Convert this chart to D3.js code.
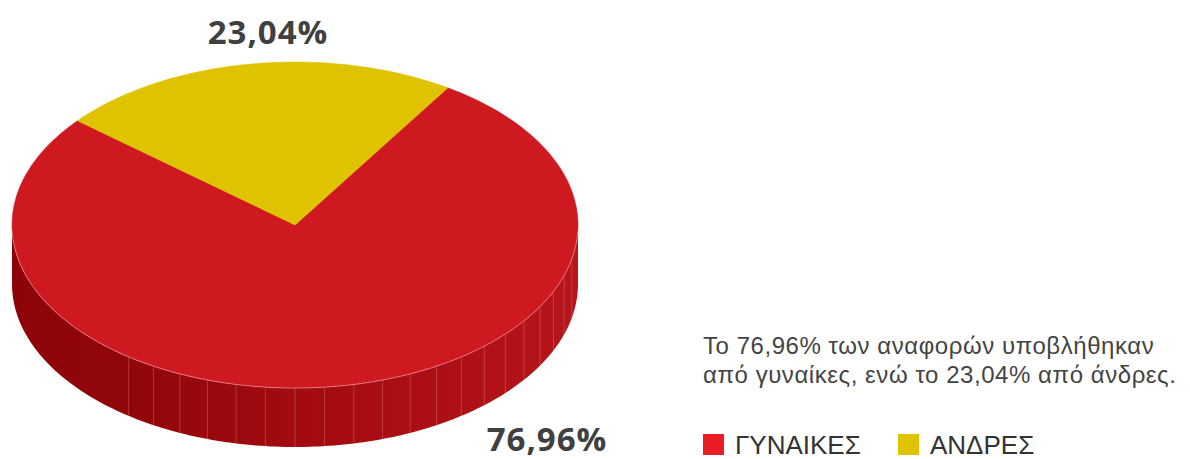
<!DOCTYPE html>
<html>
<head>
<meta charset="utf-8">
<script src="https://cdn.jsdelivr.net/npm/d3@7"></script>
<style>
  html, body { margin: 0; padding: 0; background: #fff; }
  svg { display: block; }
</style>
</head>
<body>
<svg id="chart" width="1190" height="459"></svg>
<script>
// ---- data ----
const categories = ["ΓΥΝΑΙΚΕΣ", "ΑΝΔΡΕΣ"];
const values = [76.96, 23.04];
const valueLabels = ["76,96%", "23,04%"];
const colors = ["#cf1920", "#e0c300"];
const legendColors = ["#ea1d26", "#dfc200"];
const noteLines = [
  "Το 76,96% των αναφορών υποβλήθηκαν",
  "από γυναίκες, ενώ το 23,04% από άνδρες."
];

// ---- layout ----
const W = 1190, H = 459;
const cx = 295, cy = 225, rx = 283, ry = 163, depth = 59;
const deg = Math.PI / 180;
const startAngle = 32.7 * deg;

const svg = d3.select("#chart");
svg.append("rect").attr("width", W).attr("height", H).attr("fill", "#fff");

// side gradient (darker on the left, lighter on the right)
const defs = svg.append("defs");
const grad = defs.append("linearGradient")
  .attr("id", "sideGrad")
  .attr("gradientUnits", "userSpaceOnUse")
  .attr("x1", cx - rx).attr("y1", 0)
  .attr("x2", cx + rx).attr("y2", 0);
[[0, "#8d0408"], [0.22, "#91060a"], [0.5, "#a20b10"], [0.78, "#ad1016"], [1, "#b6161c"]]
  .forEach(([o, c]) => grad.append("stop").attr("offset", o).attr("stop-color", c));

const pie = d3.pie().sort(null).value(d => d)
  .startAngle(startAngle).endAngle(startAngle + 2 * Math.PI);
const arcs = pie(values);

// elliptical projection of a pie angle (d3 convention: 0 = 12 o'clock, clockwise)
const px = a => cx + rx * Math.sin(a);
const py = (a, dz = 0) => cy - ry * Math.cos(a) + dz;

function ellipsePts(a0, a1, dz) {
  const n = Math.max(2, Math.ceil(Math.abs(a1 - a0) / (1 * deg)));
  return d3.range(n + 1).map(i => {
    const a = a0 + (a1 - a0) * i / n;
    return [px(a), py(a, dz)];
  });
}
const line = d3.line();

// ---- side (front wall) ----
const sideG = svg.append("g");
const facetStep = 6 * deg;

arcs.forEach((d, i) => {
  for (let k = -1; k <= 1; k++) {
    const a0 = Math.max(d.startAngle + k * 2 * Math.PI, 90 * deg);
    const a1 = Math.min(d.endAngle + k * 2 * Math.PI, 270 * deg);
    if (a1 <= a0) continue;
    const top = ellipsePts(a0, a1, 0);
    const bot = ellipsePts(a1, a0, depth);
    sideG.append("path")
      .attr("d", line(top.concat(bot)) + "Z")
      .attr("fill", i === 0 ? "url(#sideGrad)" : d3.color(colors[i]).darker(0.8));
    // facet edge lines
    const nf = Math.ceil((a1 - a0) / facetStep);
    for (let f = 1; f < nf; f++) {
      const b = a0 + (a1 - a0) * f / nf;
      if (b < 96 * deg || b > 216 * deg) continue;
      sideG.append("line")
        .attr("x1", px(b)).attr("y1", py(b))
        .attr("x2", px(b)).attr("y2", py(b, depth))
        .attr("stroke", "#e07c80").attr("stroke-opacity", 0.5)
        .attr("stroke-width", 0.8);
    }
  }
});

// ---- top faces ----
const topG = svg.append("g");
arcs.forEach((d, i) => {
  const pts = [[cx, cy]].concat(ellipsePts(d.startAngle, d.endAngle, 0));
  topG.append("path")
    .attr("d", line(pts) + "Z")
    .attr("fill", colors[i])
    .attr("stroke", colors[i])
    .attr("stroke-width", 0.5)
    .attr("stroke-linejoin", "round");
});
// light rim along the front edge
topG.append("path")
  .attr("d", line(ellipsePts(92 * deg, 268 * deg, 0)))
  .attr("fill", "none")
  .attr("stroke", "#f0a0a3")
  .attr("stroke-opacity", 0.8)
  .attr("stroke-width", 0.8);

// ---- value labels ----
const labelPos = [[547, 451], [268, 44]];
svg.append("g").selectAll("text")
  .data(arcs)
  .join("text")
  .attr("x", (d, i) => labelPos[i][0])
  .attr("y", (d, i) => labelPos[i][1])
  .attr("text-anchor", "middle")
  .attr("font-family", "'Open Sans', 'DejaVu Sans', sans-serif")
  .attr("font-weight", 700)
  .attr("font-size", 33)
  .attr("letter-spacing", 1)
  .attr("fill", "#404040")
  .text((d, i) => valueLabels[i]);

// ---- note ----
const note = svg.append("text")
  .attr("font-family", "'Liberation Sans', Arial, sans-serif")
  .attr("font-size", 24)
  .attr("letter-spacing", 0.55)
  .attr("fill", "#444");
noteLines.forEach((t, i) => {
  note.append("tspan").attr("x", 703).attr("y", 354 + i * 29).text(t);
});

// ---- legend ----
const legendX = d3.scalePoint().domain(categories).range([703, 898]);
const lg = svg.append("g").selectAll("g")
  .data(categories)
  .join("g")
  .attr("transform", d => `translate(${legendX(d)},434)`);
lg.append("rect")
  .attr("width", 21).attr("height", 21)
  .attr("fill", (d, i) => legendColors[i]);
lg.append("text")
  .attr("x", 32).attr("y", 20)
  .attr("font-family", "'Liberation Sans', Arial, sans-serif")
  .attr("font-size", 26)
  .attr("fill", "#333")
  .text(d => d);
</script>
</body>
</html>
